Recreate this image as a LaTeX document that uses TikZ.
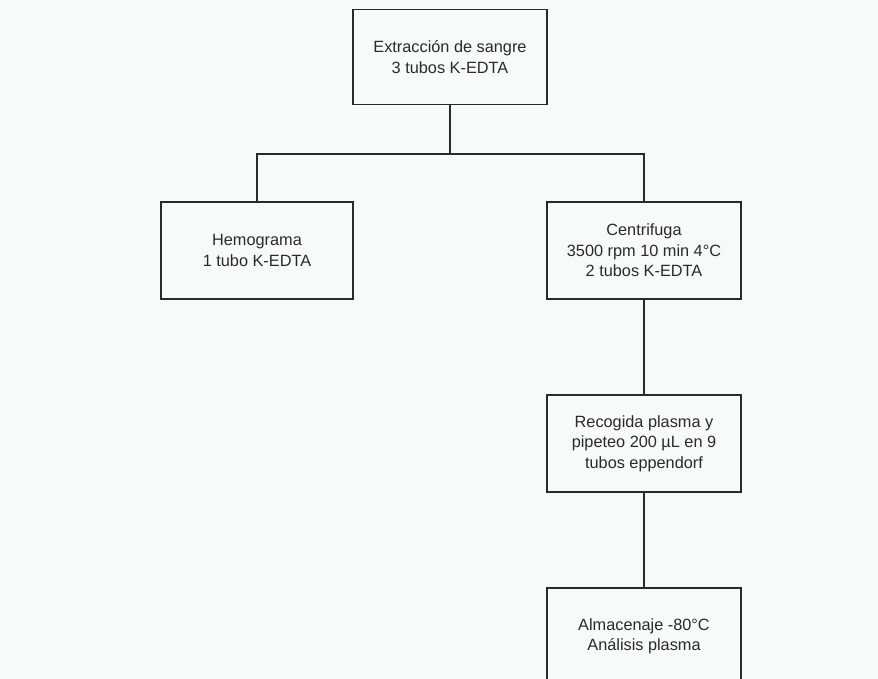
\documentclass[tikz,border=0pt]{standalone}
\usepackage{fontspec}
\setmainfont{Liberation Sans}
\usepackage{tikz}
\usetikzlibrary{positioning}
\usepackage{xcolor}
\definecolor{paleMint}{HTML}{F6FBF7}
\definecolor{inkGray}{HTML}{2A2A2A}

\begin{document}
\begin{tikzpicture}[
    x=1pt, y=-1pt,
    stepBox/.style={rectangle, draw=inkGray, line width=1.3pt, fill=paleMint, text=inkGray, font=\fontsize{16.3}{20.5}\selectfont, align=center, minimum width=194pt, minimum height=97pt, inner sep=0pt},
    link/.style={draw=inkGray, line width=1.3pt}
]
    \fill[paleMint] (0,0) rectangle (878,679);
    \useasboundingbox (0,0) rectangle (878,679);
    \clip (0,0) rectangle (878,679);

    \node[stepBox, minimum height=95pt] (extr) at (450, 57) {
        Extracción de sangre\\
        3 tubos K-EDTA
    };

    \node[stepBox, minimum width=192pt] (hemo) at (257, 250.5) {
        Hemograma\\
        1 tubo K-EDTA
    };

    \node[stepBox] (centr) at (644, 250.5) {
        Centrifuga\\
        3500 rpm 10 min 4°C\\
        2 tubos K-EDTA
    };

    \node[stepBox] (recog) at (644, 443.5) {
        Recogida plasma y\\
        pipeteo 200 µL en 9\\
        tubos eppendorf
    };

    \node[stepBox] (almac) at (644, 636.5) {
        Almacenaje -80°C\\
        Análisis plasma
    };

    \coordinate (split) at (450, 154);
    \draw[link] (extr.south) -- (split) -| (hemo.north);
    \draw[link] (split) -| (centr.north);
    \draw[link] (centr.south) -- (recog.north);
    \draw[link] (recog.south) -- (almac.north);
\end{tikzpicture}
\end{document}
